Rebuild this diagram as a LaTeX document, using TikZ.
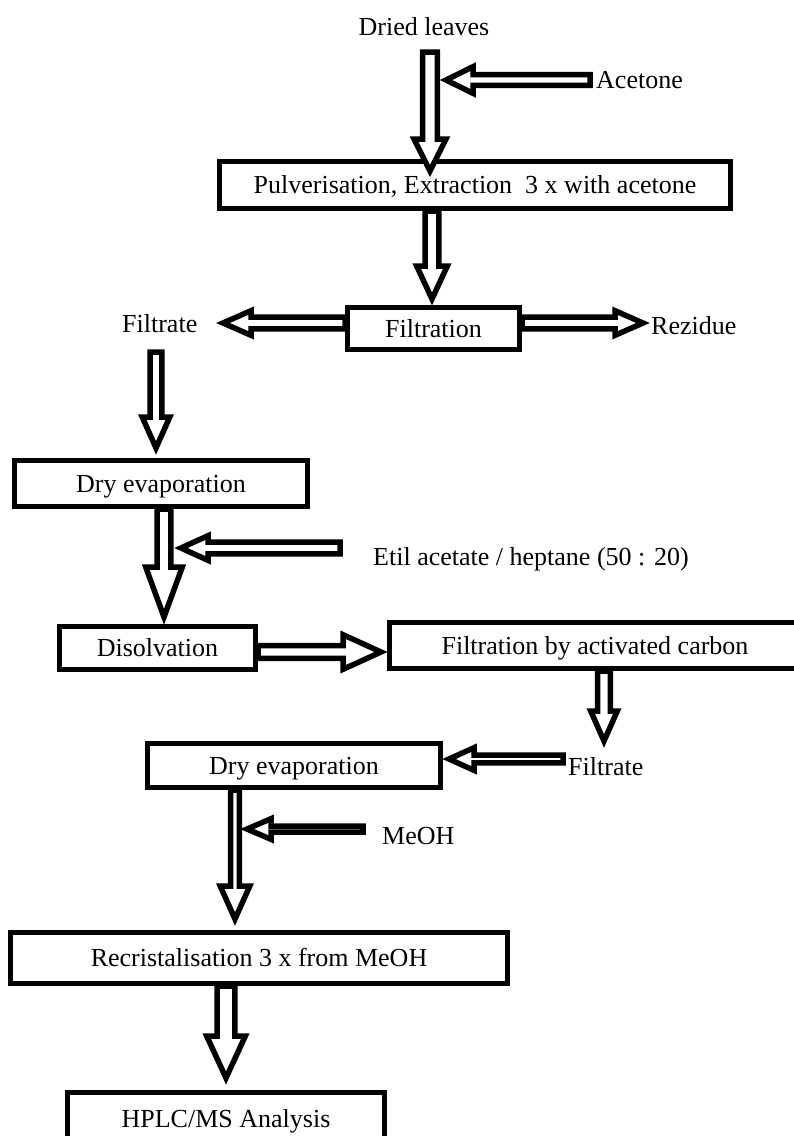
\documentclass[tikz,border=0pt]{standalone}
\usepackage{fontspec}
\setmainfont{Liberation Serif}
\usetikzlibrary{calc}

\tikzset{
  box/.style={draw, line width=5pt, inner sep=0pt, text height=17pt, text depth=0pt, font=\fontsize{26}{30}\selectfont},
  lbl/.style={inner sep=0pt, font=\fontsize{26}{30}\selectfont},
  hollow/.style={draw, fill=white, line width=5.5pt, miter limit=20}
}

% #1 tail, #2 tip, #3 shaft half width, #4 head half width, #5 head length
\newcommand{\fatarrow}[5]{%
  \coordinate (fa-neck) at ($(#2)!#5!(#1)$);
  \draw[hollow] ($(#1)!#3!90:(#2)$) -- ($(fa-neck)!#3!90:(#2)$) -- ($(fa-neck)!#4!90:(#2)$) -- (#2)
    -- ($(fa-neck)!#4!-90:(#2)$) -- ($(fa-neck)!#3!-90:(#2)$) -- ($(#1)!#3!-90:(#2)$) -- cycle;
}

\begin{document}
\begin{tikzpicture}[x=1pt, y=-1pt]
				\useasboundingbox (0,0) rectangle (794,1136);
				% labels
				\node[lbl, anchor=base] (leaves) at (424,35) {Dried leaves};
				\node[lbl, anchor=base west] (acetone) at (596,88) {Acetone};
				\node[lbl, anchor=base west] (filtrate) at (122,332) {Filtrate};
				\node[lbl, anchor=base west] (rezidue) at (651,334) {Rezidue};
				\node[lbl, anchor=base west] (etil) at (373,565) {Etil acetate / heptane (50 : 20)};
				\node[lbl, anchor=base west] (filtrate2) at (568,775) {Filtrate};
				\node[lbl, anchor=base west] (meoh) at (382,844) {MeOH};
				% boxes
				\node[box, minimum width=511pt, minimum height=47pt] (pulv) at (475,185) {Pulverisation, Extraction\ \ 3 x with acetone};
				\node[box, minimum width=172pt, minimum height=42pt] (filt) at (433.5,328.5) {Filtration};
				\node[box, minimum width=293pt, minimum height=46pt] (dry1) at (161,483.5) {Dry evaporation};
				\node[box, minimum width=196pt, minimum height=43pt] (disol) at (157.5,648) {Disolvation};
				\node[box, minimum width=411pt, minimum height=46pt] (carbon) at (595,645.5) {Filtration by activated carbon};
				\node[box, minimum width=293pt, minimum height=44pt] (dry2) at (294,765.5) {Dry evaporation};
				\node[box, minimum width=497pt, minimum height=51pt] (recrist) at (259,958) {Recristalisation 3 x from MeOH};
				\node[box, minimum width=317pt, minimum height=54pt] (hplc) at (226,1119) {HPLC/MS Analysis};
				% arrow ends
				\coordinate (a1s) at (430,52);  \coordinate (a1t) at (430,171);
				\coordinate (acs) at (590,80);  \coordinate (act) at (446,80);
				\coordinate (a2s) at (432,211); \coordinate (a2t) at (432,299);
				\coordinate (fls) at (345,323); \coordinate (flt) at (223,323);
				\coordinate (frs) at (522,323); \coordinate (frt) at (643,323);
				\coordinate (a3s) at (156,352); \coordinate (a3t) at (156,448);
				\coordinate (a4s) at (164,509); \coordinate (a4t) at (164,617);
				\coordinate (ets) at (340,548); \coordinate (ett) at (181,548);
				\coordinate (a5s) at (258,652); \coordinate (a5t) at (381,652);
				\coordinate (a6s) at (604,671); \coordinate (a6t) at (604,741);
				\coordinate (f2s) at (563,759); \coordinate (f2t) at (449,759);
				\coordinate (a7s) at (235,790); \coordinate (a7t) at (235,919);
				\coordinate (mes) at (363,829); \coordinate (met) at (247,829);
				\coordinate (a8s) at (226,986); \coordinate (a8t) at (226,1078);
				% main flow
				\fatarrow{a1s}{a1t}{7.3pt}{16pt}{32pt}
				\fatarrow{a2s}{a2t}{6.8pt}{15.3pt}{33pt}
				\fatarrow{a3s}{a3t}{5.8pt}{13.8pt}{31pt}
				\fatarrow{a4s}{a4t}{6.8pt}{18.3pt}{50pt}
				\fatarrow{a5s}{a5t}{6.3pt}{17.3pt}{38pt}
				\fatarrow{a6s}{a6t}{6.3pt}{13.3pt}{30pt}
				\fatarrow{a7s}{a7t}{4.3pt}{14.8pt}{33pt}
				\fatarrow{a8s}{a8t}{8.8pt}{19.3pt}{42pt}
				% side arrows
				\fatarrow{acs}{act}{5.3pt}{13.3pt}{27pt}
				\fatarrow{fls}{flt}{5.8pt}{12.3pt}{28pt}
				\fatarrow{frs}{frt}{5.8pt}{12.3pt}{28pt}
				\fatarrow{ets}{ett}{5.8pt}{12.3pt}{27pt}
				\fatarrow{f2s}{f2t}{3.8pt}{11.3pt}{25pt}
				\fatarrow{mes}{met}{3pt}{10.3pt}{24pt}
\end{tikzpicture}
\end{document}
